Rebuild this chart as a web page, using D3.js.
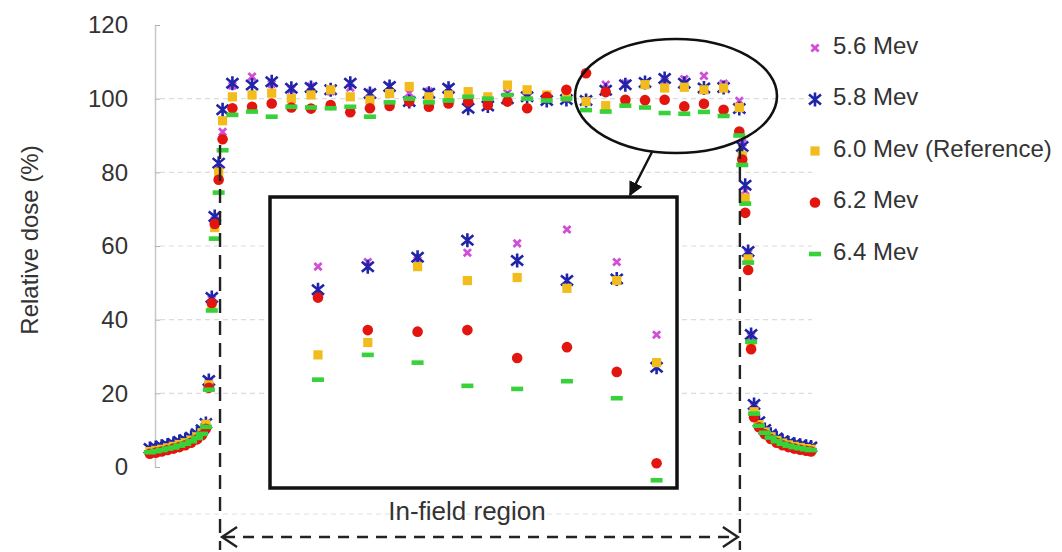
<!DOCTYPE html>
<html>
<head>
<meta charset="utf-8">
<script src="https://cdn.jsdelivr.net/npm/d3@7"></script>
<style>
  body { margin: 0; background: #fff; }
  svg { display: block; }
  text { font-family: "Liberation Sans", Arial, Helvetica, sans-serif; }
</style>
</head>
<body>
<svg id="chart" width="1062" height="552"></svg>
<script>
// Off-axis measurement positions (arbitrary units, field centre = 0)
const positions = [
  -16.7, -16.4, -16.1, -15.8, -15.5, -15.2, -14.9, -14.6, -14.3, -14.05, -13.85,
  -13.7, -13.55, -13.4, -13.2, -13.0,
  -12.5, -11.5, -10.5, -9.5, -8.5, -7.5, -6.5, -5.5, -4.5, -3.5, -2.5, -1.5, -0.5,
  0.5, 1.5, 2.5, 3.5, 4.5, 5.5, 6.5, 7.5, 8.5, 9.5, 10.5, 11.5, 12.5,
  13.3, 13.45, 13.6, 13.75, 13.9, 14.05,
  14.3, 14.6, 14.9, 15.2, 15.5, 15.8, 16.1, 16.4, 16.7, 16.95
];

// Relative dose (%) per beam energy
const dose56 = [
  4.6, 4.9, 5.2, 5.6, 6.0, 6.5, 7.0, 7.7, 8.6, 9.6, 11.2,
  23.0, 45.5, 67, 81, 91,
  103.5, 106, 104, 102.5, 103.3, 102, 103, 101.6, 103.3, 101.5, 101.9, 102.8, 100.5,
  100, 101.5, 101, 100.5, 101, 99.5, 103.8, 104.1, 104.2, 104.7, 105.3, 106.2, 104.1,
  99.4, 88, 75, 58, 35.5, 16.5,
  11.9, 9.9, 8.6, 7.6, 6.8, 6.3, 5.9, 5.6, 5.3, 5.1
];
const dose58 = [
  5.0, 5.3, 5.6, 6.0, 6.4, 6.9, 7.4, 8.1, 9.0, 10.1, 11.8,
  23.5, 46, 68, 82.5, 97,
  104.2, 103.7, 104.6, 102.8, 103, 102.4, 104.2, 101.4, 103.3, 99.2, 101.5, 102.8, 97.4,
  98, 100, 100.5, 99.5, 99.8, 99.5, 102.3, 103.8, 104.4, 105.5, 104.2, 102.9, 103.0,
  97.3, 87, 76.5, 58.5, 36, 17,
  12.3, 10.2, 8.9, 7.9, 7.1, 6.6, 6.2, 5.9, 5.6, 5.4
];
const dose60 = [
  4.2, 4.5, 4.8, 5.2, 5.6, 6.1, 6.6, 7.3, 8.2, 9.3, 11.6,
  22.3, 44, 65, 80, 94,
  100.5, 101, 101.5, 100, 101, 102.4, 100.5, 99.6, 101.4, 103.3, 100.5, 101, 101.9,
  100.5, 103.7, 102.4, 101, 100.5, 99.2, 98.1, 98.9, 103.8, 102.9, 103.1, 102.4, 102.9,
  97.6, 84.5, 73, 56.5, 33, 15,
  11.5, 9.5, 8.2, 7.2, 6.5, 6.0, 5.6, 5.3, 5.0, 4.8
];
const dose62 = [
  3.6, 3.9, 4.2, 4.6, 5.0, 5.4, 5.9, 6.6, 7.5, 8.6, 10.4,
  21.5, 44.5, 66, 78, 89,
  97.4, 97.8, 98.7, 97.6, 97.3, 98.3, 96.3, 97.4, 98, 99.2, 97.8, 98.7, 99.2,
  98.3, 99.2, 97.4, 100.5, 102.4, 106.9, 101.8, 99.7, 99.6, 99.7, 97.9, 98.6, 97.0,
  91.1, 83.5, 69, 53.5, 32, 13.5,
  10.8, 8.9, 7.6, 6.6, 5.9, 5.4, 5.0, 4.7, 4.4, 4.2
];
const dose64 = [
  4.0, 4.3, 4.6, 5.0, 5.3, 5.8, 6.3, 7.0, 7.9, 9.0, 10.9,
  21.0, 42.5, 62, 74.5, 86,
  95.6, 96.5, 95.1, 97.8, 97.6, 97.4, 97.8, 95.1, 99, 100, 99, 99.5, 100.5,
  100, 101, 100, 99.5, 100, 96.9, 96.5, 98.1, 97.6, 96.1, 95.9, 96.4, 95.3,
  90.0, 82, 71.5, 55.5, 34, 14.5,
  11.2, 9.3, 8.0, 7.0, 6.3, 5.8, 5.4, 5.1, 4.8, 4.6
];

const seriesNames = ["5.6 Mev", "5.8 Mev", "6.0 Mev (Reference)", "6.2 Mev", "6.4 Mev"];
const seriesValues = [dose56, dose58, dose60, dose62, dose64];
const yTicks = [0, 20, 40, 60, 80, 100, 120];
const yTitle = "Relative dose (%)";
const fieldEdges = [-13.13, 13.33];
const regionLabel = "In-field region";
// Window shown in the magnified panel: [position range], [dose range]
const zoomPositions = [5.536, 13.71];
const zoomDose = [89.5, 108.3];

const svg = d3.select("#chart");
svg.append("rect").attr("width", 1062).attr("height", 552).attr("fill", "#fff");

const x = d3.scaleLinear().domain([-17, 17]).range([144, 812]);
const y = d3.scaleLinear().domain([0, 120]).range([467, 25]);

// Marker glyphs, one per energy
function addMarker(g, k) {
  if (k === 0) {
    g.append("path").attr("d", "M-3.6,-3.6L3.6,3.6M-3.6,3.6L3.6,-3.6")
      .attr("stroke", "#d04fd6").attr("stroke-width", 2.8).attr("fill", "none");
  } else if (k === 1) {
    g.append("path").attr("d", "M-6,-5L6,5M-6,5L6,-5M0,-7L0,7")
      .attr("stroke", "#2024a8").attr("stroke-width", 2.6).attr("fill", "none");
  } else if (k === 2) {
    g.append("rect").attr("x", -4.6).attr("y", -4.6).attr("width", 9.2).attr("height", 9.2)
      .attr("fill", "#f2bd1c");
  } else if (k === 3) {
    g.append("circle").attr("r", 5.3).attr("fill", "#e2150f");
  } else {
    g.append("rect").attr("x", -6).attr("y", -2.3).attr("width", 12).attr("height", 4.6)
      .attr("fill", "#37d23a");
  }
}

function drawPoints(parent, xs, ys, keep) {
  seriesValues.forEach((vals, k) => {
    const pts = positions.map((p, i) => ({ p, v: vals[i] })).filter(keep || (() => true));
    parent.append("g").selectAll("g").data(pts).join("g")
      .attr("transform", d => `translate(${xs(d.p)},${ys(d.v)})`)
      .each(function () { addMarker(d3.select(this), k); });
  });
}

// Gridlines
svg.append("g").selectAll("line").data(yTicks.filter(t => t > 0 && t < 120)).join("line")
  .attr("x1", 160).attr("x2", 812)
  .attr("y1", d => y(d)).attr("y2", d => y(d))
  .attr("stroke", "#dcdcdc").attr("stroke-width", 1.2).attr("stroke-dasharray", "5,4");
// Faint baseline below the plot
svg.append("line").attr("x1", 160).attr("x2", 812).attr("y1", 514).attr("y2", 514)
  .attr("stroke", "#e2e2e2").attr("stroke-width", 1.2).attr("stroke-dasharray", "5,4");

// Y axis
const axis = svg.append("g").attr("transform", "translate(155,0)")
  .call(d3.axisLeft(y).tickValues(yTicks).tickSizeInner(-5).tickSizeOuter(0).tickPadding(27));
axis.select(".domain").attr("stroke", "#c8c8c8").attr("stroke-width", 1.5);
axis.selectAll(".tick line").attr("stroke", "#b0b0b0");
axis.selectAll(".tick text").attr("font-size", 24).attr("fill", "#333")
  .attr("font-family", "'Liberation Sans', Arial, sans-serif");

svg.append("text")
  .attr("transform", "translate(29,240) rotate(-90)")
  .attr("text-anchor", "middle").attr("dominant-baseline", "central")
  .attr("font-size", 24).attr("fill", "#333").text(yTitle);

// Measured profiles
drawPoints(svg, x, y);

// Field edge markers
svg.append("g").selectAll("line").data(fieldEdges).join("line")
  .attr("x1", d => x(d)).attr("x2", d => x(d))
  .attr("y1", 145).attr("y2", 550)
  .attr("stroke", "#222").attr("stroke-width", 2.4).attr("stroke-dasharray", "14,8");

// Highlight ellipse around the shoulder of the profile
svg.append("ellipse").attr("cx", 676).attr("cy", 96).attr("rx", 101).attr("ry", 57)
  .attr("fill", "none").attr("stroke", "#111").attr("stroke-width", 2.6);

// Magnified panel
const px0 = 270, py0 = 197, pw = 407, ph = 291;
const xi = d3.scaleLinear().domain(zoomPositions).range([px0, px0 + pw]);
const yi = d3.scaleLinear().domain(zoomDose).range([py0 + ph, py0]);
svg.append("defs").append("clipPath").attr("id", "panelClip")
  .append("rect").attr("x", px0).attr("y", py0).attr("width", pw).attr("height", ph);
svg.append("rect").attr("x", px0).attr("y", py0).attr("width", pw).attr("height", ph).attr("fill", "#fff");
const panel = svg.append("g").attr("clip-path", "url(#panelClip)");
drawPoints(panel, xi, yi, d => d.p >= zoomPositions[0] && d.p <= zoomPositions[1]);
svg.append("rect").attr("x", px0).attr("y", py0).attr("width", pw).attr("height", ph)
  .attr("fill", "none").attr("stroke", "#111").attr("stroke-width", 3.5);

// Pointer from the ellipse to the panel
svg.append("defs").append("marker").attr("id", "head").attr("viewBox", "0 0 10 10")
  .attr("refX", 9).attr("refY", 5).attr("markerWidth", 6).attr("markerHeight", 6)
  .attr("orient", "auto").append("path").attr("d", "M0,0L10,5L0,10z").attr("fill", "#111");
svg.append("line").attr("x1", 652).attr("y1", 152).attr("x2", 630).attr("y2", 195)
  .attr("stroke", "#111").attr("stroke-width", 2.4).attr("marker-end", "url(#head)");

// Legend
const legend = svg.append("g");
seriesNames.forEach((name, k) => {
  const ly = 45 + k * 51.5;
  const g = legend.append("g").attr("transform", `translate(815,${ly + 3})`);
  addMarker(g, k);
  legend.append("text").attr("x", 833).attr("y", ly).attr("dominant-baseline", "central")
    .attr("font-size", 24).attr("fill", "#333").text(name);
});

// In-field span annotation
const ax0 = x(fieldEdges[0]), ax1 = x(fieldEdges[1]), ay = 537;
svg.append("line").attr("x1", ax0 + 4).attr("x2", ax1 - 4).attr("y1", ay).attr("y2", ay)
  .attr("stroke", "#222").attr("stroke-width", 2.4).attr("stroke-dasharray", "11,8");
svg.append("path")
  .attr("d", `M${ax0 + 17},${ay - 10}L${ax0 + 2},${ay}L${ax0 + 17},${ay + 10}M${ax1 - 17},${ay - 10}L${ax1 - 2},${ay}L${ax1 - 17},${ay + 10}`)
  .attr("fill", "none").attr("stroke", "#222").attr("stroke-width", 2.4);
svg.append("text").attr("x", 467).attr("y", 520).attr("text-anchor", "middle")
  .attr("font-size", 26).attr("fill", "#333").text(regionLabel);
</script>
</body>
</html>
